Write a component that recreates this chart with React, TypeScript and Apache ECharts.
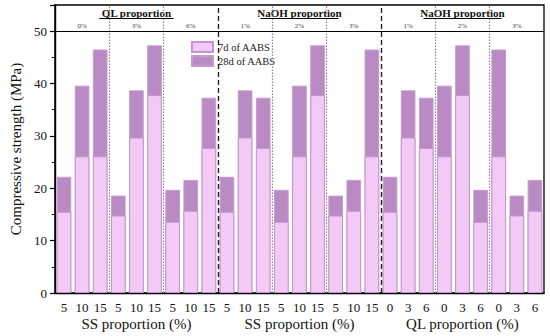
import React, { useEffect, useRef } from "react";
import * as echarts from "echarts";

const categories = ["5","10","15","5","10","15","5","10","15","5","10","15","5","10","15","5","10","15","0","3","6","0","3","6","0","3","6"];
const strength28d = [22.2,39.6,46.5,18.6,38.7,47.3,19.7,21.6,37.3, 22.2,38.7,37.3,19.7,39.6,47.3,18.6,21.6,46.5, 22.2,38.7,37.3,39.6,47.3,19.7,46.5,18.6,21.6];
const strength7d = [15.5,26.1,26.1,14.8,29.7,37.8,13.6,15.7,27.7, 15.5,29.7,27.7,13.6,26.1,37.8,14.8,15.7,26.1, 15.5,29.7,27.7,26.1,37.8,13.6,26.1,14.8,15.7];
const subgroupLabels = ["0%","3%","6%","1%","2%","3%","1%","2%","3%"];
const groupTitles = ["QL proportion","NaOH proportion","NaOH proportion"];
const groupAxisNames = ["SS proportion (%)","SS proportion (%)","QL proportion (%)"];
const yTicks = { min: 0, max: 55, interval: 10 };

const FONT = "Liberation Serif, Times New Roman, serif";

export default function App() {
  const ref = useRef<HTMLDivElement>(null);
  useEffect(() => {
    if (!ref.current) return;
    const chart = echarts.init(ref.current, null, { renderer: "svg" });
    const n = categories.length;
    const groupSize = n / 3;
    const sub = groupSize / 3;
    const dashed = [groupSize, 2 * groupSize].map((x) => ({
      xAxis: x,
      lineStyle: { type: [5, 3], color: "#222", width: 1.4 },
    }));
    const dotted: any[] = [];
    for (let g = 0; g < 3; g++) {
      dotted.push({ xAxis: g * groupSize + sub, lineStyle: { type: [1.5, 1.5], color: "#888", width: 1.2 } });
      dotted.push({ xAxis: g * groupSize + 2 * sub, lineStyle: { type: [1.5, 1.5], color: "#888", width: 1.2 } });
    }
    const underlines = groupTitles.map((t, g) => {
      const c = g * groupSize + groupSize / 2;
      const hw = t.startsWith("QL") ? 2.05 : 2.15;
      return [
        { coord: [c - hw, 52.5] },
        { coord: [c + hw, 52.5] },
      ];
    });
    const txt = (size: number, extra: any = {}) => ({ fontFamily: FONT, fontSize: size, color: "#111", ...extra });
    chart.setOption({
      animation: false,
      textStyle: { fontFamily: FONT },
      grid: { left: 43, right: 6, top: 5, bottom: 43, show: true, borderColor: "#000", borderWidth: 1.3 },
      legend: {
        data: ["7d of AABS", "28d of AABS"],
        orient: "vertical",
        left: 186,
        top: 36,
        itemWidth: 21,
        itemHeight: 10,
        itemGap: 2,
        icon: "rect",
        textStyle: { fontFamily: FONT, fontSize: 10.5, color: "#222" },
      },
      xAxis: [
        {
          type: "category",
          data: categories,
          position: "bottom",
          axisLine: { lineStyle: { color: "#000", width: 1.4 } },
          axisTick: { alignWithLabel: true, length: 5, lineStyle: { color: "#000", width: 1.2 } },
          axisLabel: { interval: 0, margin: 8, ...txt(13) },
        },
        { type: "value", min: 0, max: n, show: false },
        {
          type: "category",
          data: groupAxisNames,
          position: "bottom",
          axisLine: { show: false },
          axisTick: { show: false },
          axisLabel: { interval: 0, margin: 23, ...txt(15) },
        },
        {
          type: "category",
          data: subgroupLabels,
          position: "top",
          axisLine: { show: false },
          axisTick: { show: false },
          axisLabel: { inside: true, interval: 0, margin: 17, ...txt(7, { color: "#444" }) },
        },
        {
          type: "category",
          data: groupTitles,
          position: "top",
          axisLine: { show: false },
          axisTick: { show: false },
          axisLabel: { inside: true, interval: 0, margin: 2, ...txt(11, { fontWeight: "bold" }) },
        },
      ],
      yAxis: {
        type: "value",
        min: yTicks.min,
        max: yTicks.max,
        interval: yTicks.interval,
        name: "Compressive strength (MPa)",
        nameLocation: "middle",
        nameGap: 26,
        nameTextStyle: txt(15),
        axisLine: { show: true, lineStyle: { color: "#000", width: 1.4 } },
        axisTick: { show: true, length: 5, lineStyle: { color: "#000", width: 1.2 } },
        minorTick: { show: true, splitNumber: 2, length: 3, lineStyle: { color: "#000", width: 1 } },
        splitLine: { show: false },
        axisLabel: { margin: 8, showMaxLabel: false, ...txt(13) },
      },
      series: [
        {
          name: "28d of AABS",
          type: "bar",
          data: strength28d,
          barCategoryGap: "19%",
          barGap: "-100%",
          itemStyle: { color: "#b98ac4", borderColor: "#c79bd1", borderWidth: 1 },
        },
        {
          name: "7d of AABS",
          type: "bar",
          data: strength7d,
          barCategoryGap: "19%",
          barGap: "-100%",
          itemStyle: { color: "#f3c9f6", borderColor: "#c894d0", borderWidth: 1 },
        },
        {
          type: "line",
          xAxisIndex: 1,
          yAxisIndex: 0,
          data: [],
          silent: true,
          markLine: {
            silent: true,
            symbol: ["none", "none"],
            label: { show: false },
            data: [
              ...dashed,
              ...dotted,
              { yAxis: 50, lineStyle: { type: "solid", color: "#000", width: 1 } },
              ...underlines.map((u) => [
                { ...u[0], lineStyle: { type: "solid", color: "#000", width: 1.2 } },
                u[1],
              ]),
            ],
          },
        },
      ],
    });
    return () => chart.dispose();
  }, []);
  return <div ref={ref} style={{ width: 550, height: 336, position: "absolute", left: 0, top: 0 }} />;
}
